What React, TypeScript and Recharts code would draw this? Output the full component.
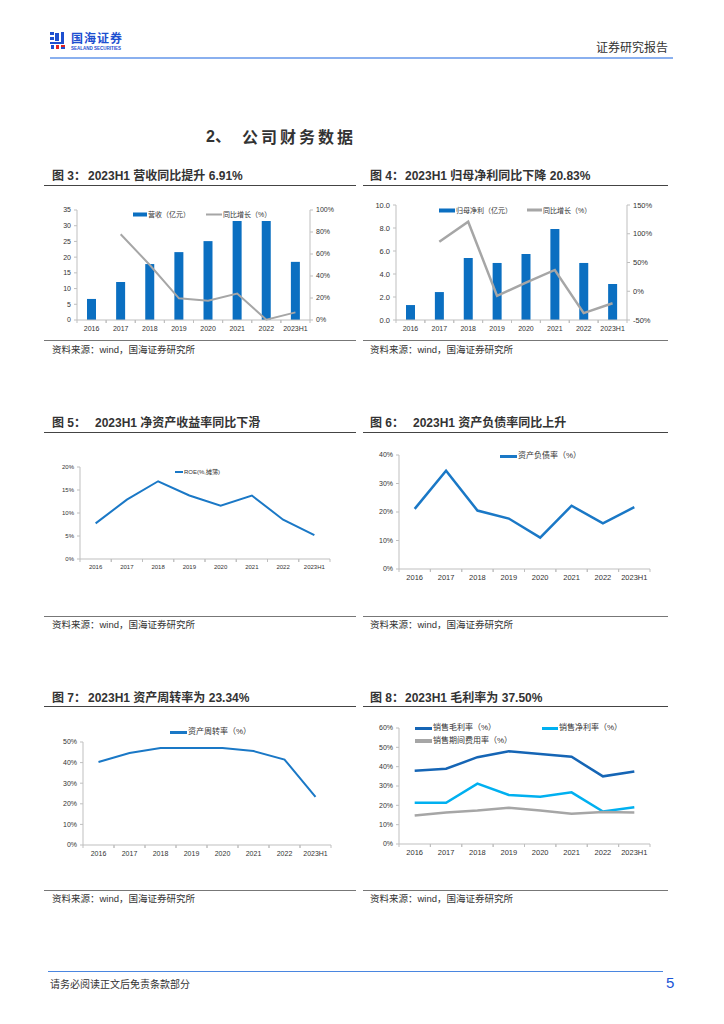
import React from 'react';
import { ComposedChart, Bar, Line, XAxis, YAxis, Legend } from 'recharts';

// ---------- data ----------
const years = ['2016', '2017', '2018', '2019', '2020', '2021', '2022', '2023H1'];
const revenue = [6.7, 12.1, 17.8, 21.6, 25.1, 31.5, 31.5, 18.5];
const revenueYoY = [null, 78, 50, 19.7, 17.6, 24, 0.3, 6.91];
const netProfit = [1.3, 2.43, 5.39, 4.96, 5.74, 7.91, 4.96, 3.13];
const netProfitYoY = [null, 86, 121, -8, 15, 37, -38, -20.83];
const roe = [7.75, 12.9, 16.9, 13.8, 11.6, 13.8, 8.55, 5.2];
const debtRatio = [21.1, 34.5, 20.5, 17.7, 11.0, 22.2, 16.0, 21.7];
const assetTurnover = [40.3, 44.7, 47.1, 47.1, 47.1, 45.6, 41.5, 23.34];
const grossMargin = [37.9, 38.9, 44.9, 48.0, 46.6, 45.1, 35.0, 37.5];
const netMargin = [21.3, 21.3, 31.2, 25.4, 24.5, 26.7, 16.8, 19.0];
const expenseRatio = [14.7, 16.3, 17.3, 18.7, 17.3, 15.6, 16.5, 16.3];

const revTicks = [0, 5, 10, 15, 20, 25, 30, 35];
const revPctTicks = [0, 20, 40, 60, 80, 100];
const npTicks = [0, 2, 4, 6, 8, 10];
const npPctTicks = [-50, 0, 50, 100, 150];
const roeTicks = [0, 5, 10, 15, 20];
const debtTicks = [0, 10, 20, 30, 40];
const turnTicks = [0, 10, 20, 30, 40, 50];
const marginTicks = [0, 10, 20, 30, 40, 50, 60];

const table = years.map((year, i) => ({
  year,
  revenue: revenue[i],
  revenueYoY: revenueYoY[i],
  netProfit: netProfit[i],
  netProfitYoY: netProfitYoY[i],
  roe: roe[i],
  debtRatio: debtRatio[i],
  assetTurnover: assetTurnover[i],
  grossMargin: grossMargin[i],
  netMargin: netMargin[i],
  expenseRatio: expenseRatio[i],
}));

// ---------- styles ----------
const FONT = '"Liberation Sans", Arial, "Noto Sans CJK SC", sans-serif';
const CJK = '"Noto Sans CJK SC", sans-serif';
const AX = '#BFBFBF';
const TXT = '#333333';
const BAR = '#0B6FC1';
const BLUE = '#1A78C6';
const pct = (v: number) => `${v}%`;

const XTick = (props: any) => {
  const { x, y, payload, band, fs } = props;
  return (
    <g>
      <line x1={x - band / 2} x2={x - band / 2} y1={y} y2={y + 3} stroke={AX} />
      <line x1={x + band / 2} x2={x + band / 2} y1={y} y2={y + 3} stroke={AX} />
      <text x={x} y={y + 6} dy="0.71em" textAnchor="middle" fontSize={fs} fill={TXT} fontFamily={FONT}>
        {payload.value}
      </text>
    </g>
  );
};

type LItem = { x: number; y: number; label: string; color: string; w: number; h: number; fs: number };
const renderLegend = (items: LItem[]) => () => (
  <div style={{ position: 'relative', width: 0, height: 0 }}>
    {items.map((it, i) => (
      <div
        key={i}
        style={{
          position: 'absolute',
          left: it.x,
          top: it.y,
          transform: 'translateY(-50%)',
          display: 'flex',
          alignItems: 'center',
          whiteSpace: 'nowrap',
          fontSize: it.fs,
          fontFamily: FONT,
          color: TXT,
          lineHeight: 1,
        }}
      >
        <span style={{ display: 'inline-block', width: it.w, height: it.h, background: it.color, marginRight: 1 }} />
        <span>{it.label}</span>
      </div>
    ))}
  </div>
);

const xAxisProps = (band: number, fs: number) => ({
  dataKey: 'year',
  scale: 'band' as const,
  height: 20,
  interval: 0,
  tickSize: 0,
  tickMargin: 0,
  tickLine: false,
  axisLine: { stroke: AX },
  tick: <XTick band={band} fs={fs} />,
});

const yAxisProps = (width: number, fs: number) => ({
  width,
  interval: 0 as const,
  tickSize: 3,
  tickMargin: 3,
  axisLine: { stroke: AX },
  tickLine: { stroke: AX },
  tick: { fontSize: fs, fill: TXT, fontFamily: FONT },
});

const legendBase = {
  layout: 'horizontal' as const,
  verticalAlign: 'middle' as const,
  align: 'center' as const,
  wrapperStyle: { left: 0, top: 0, width: 0, height: 0 },
};

// ---------- page helpers ----------
const T = ({ x, y, fs, children, bold, color, ls, family, lh }: any) => (
  <div
    style={{
      position: 'absolute',
      left: x,
      top: y,
      transform: 'translateY(-50%)',
      fontSize: fs,
      fontWeight: bold ? 700 : 400,
      color: color || TXT,
      letterSpacing: ls || 0,
      whiteSpace: 'nowrap',
      lineHeight: lh || 1.2,
      fontFamily: family || FONT,
    }}
  >
    {children}
  </div>
);

const HLine = ({ x1, x2, y, color, w }: any) => (
  <div style={{ position: 'absolute', left: x1, top: y, width: x2 - x1, height: w || 1, background: color }} />
);

const Pos = ({ x, y, children }: any) => <div style={{ position: 'absolute', left: x, top: y }}>{children}</div>;

const Title = ({ x, x2, y, fig, text }: any) => (
  <>
    <T x={x} y={y} fs={12} bold>{fig}</T>
    <T x={x2} y={y} fs={12} bold>{text}</T>
  </>
);

const Source = ({ x, y }: any) => <T x={x} y={y} fs={9.5}>资料来源：wind，国海证券研究所</T>;

export default function App() {
  return (
    <div style={{ position: 'absolute', left: 0, top: 0, width: 724, height: 1024, background: '#fff', fontFamily: FONT, overflow: 'hidden' }}>
      {/* header */}
      <svg style={{ position: 'absolute', left: 50, top: 32 }} width={18} height={17}>
        <rect x={0} y={0} width={4} height={3} fill="#1D4FD0" />
        <rect x={0} y={5} width={4} height={3} fill="#1D4FD0" />
        <rect x={5} y={1} width={4} height={8} fill="#1D4FD0" />
        <rect x={11} y={0} width={3} height={10} fill="#1D4FD0" />
        <rect x={0} y={10} width={14} height={2} fill="#1D4FD0" />
        <rect x={1} y={13} width={3} height={4} fill="#1D4FD0" />
        <rect x={6} y={13} width={3} height={4} fill="#E02424" />
        <rect x={11} y={13} width={4} height={2} fill="#E02424" />
        <rect x={11} y={15} width={4} height={2} fill="#1D4FD0" />
      </svg>
      <T x={71} y={37.5} fs={12} lh={1} bold color="#1D4FD0" family={CJK} ls={1}>国海证券</T>
      <T x={71} y={48.5} fs={4.5} lh={1} bold color="#1D4FD0">SEALAND SECURITIES</T>
      <T x={596} y={47} fs={12} color="#333" family={CJK}>证券研究报告</T>
      <HLine x1={50} x2={673} y={57} color="#8AB0EF" w={1.5} />

      {/* section title */}
      <T x={206} y={137} fs={16} bold>2、</T>
      <T x={242} y={137} fs={16} bold ls={3} family={CJK}>公司财务数据</T>

      {/* row 1 titles */}
      <Title x={52} x2={88} y={176} fig="图 3：" text="2023H1 营收同比提升 6.91%" />
      <Title x={370} x2={405} y={176} fig="图 4：" text="2023H1 归母净利同比下降 20.83%" />
      <HLine x1={44} x2={356} y={185} color="#444" />
      <HLine x1={363} x2={668} y={185} color="#444" />

      {/* chart 3 */}
      <Pos x={40} y={196}>
        <ComposedChart width={310} height={144} data={table} margin={{ top: 14, right: 0, bottom: 0, left: 0 }}>
          <XAxis {...xAxisProps(29.125, 7)} />
          <YAxis yAxisId="l" {...yAxisProps(37, 7)} domain={[0, 35]} ticks={revTicks} />
          <YAxis yAxisId="r" orientation="right" {...yAxisProps(40, 7)} domain={[0, 100]} ticks={revPctTicks} tickFormatter={pct} />
          <Legend
            {...legendBase}
            content={renderLegend([
              { x: 93, y: 18, w: 14, h: 4, color: BAR, label: '营收（亿元）', fs: 7 },
              { x: 166, y: 18, w: 16, h: 2, color: '#A6A6A6', label: '同比增长（%）', fs: 7 },
            ])}
          />
          <Bar yAxisId="l" dataKey="revenue" fill={BAR} barSize={9} isAnimationActive={false} />
          <Line yAxisId="r" dataKey="revenueYoY" stroke="#A6A6A6" strokeWidth={2} dot={false} isAnimationActive={false} />
        </ComposedChart>
      </Pos>

      {/* chart 4 */}
      <Pos x={360} y={193}>
        <ComposedChart width={310} height={147} data={table} margin={{ top: 12, right: 0, bottom: 0, left: 0 }}>
          <XAxis {...xAxisProps(28.875, 7)} />
          <YAxis yAxisId="l" {...yAxisProps(36, 7.5)} domain={[0, 10]} ticks={npTicks} tickFormatter={(v: number) => v.toFixed(1)} />
          <YAxis yAxisId="r" orientation="right" {...yAxisProps(43, 7.5)} domain={[-50, 150]} ticks={npPctTicks} tickFormatter={pct} />
          <Legend
            {...legendBase}
            content={renderLegend([
              { x: 79, y: 17, w: 16, h: 4, color: BAR, label: '归母净利（亿元）', fs: 7 },
              { x: 167, y: 17, w: 15, h: 2.5, color: '#A6A6A6', label: '同比增长（%）', fs: 7 },
            ])}
          />
          <Bar yAxisId="l" dataKey="netProfit" fill={BAR} barSize={9} isAnimationActive={false} />
          <Line yAxisId="r" dataKey="netProfitYoY" stroke="#A6A6A6" strokeWidth={2.5} dot={false} isAnimationActive={false} />
        </ComposedChart>
      </Pos>

      <HLine x1={44} x2={356} y={340} color="#777" />
      <HLine x1={363} x2={668} y={340} color="#777" />
      <Source x={52} y={350} />
      <Source x={370} y={350} />

      {/* row 2 titles */}
      <Title x={52} x2={95} y={423} fig="图 5：" text="2023H1 净资产收益率同比下滑" />
      <Title x={370} x2={413} y={423} fig="图 6：" text="2023H1 资产负债率同比上升" />
      <HLine x1={44} x2={356} y={432} color="#444" />
      <HLine x1={363} x2={668} y={432} color="#444" />

      {/* chart 5 */}
      <Pos x={40} y={455}>
        <ComposedChart width={310} height={124} data={table} margin={{ top: 12, right: 20, bottom: 0, left: 0 }}>
          <XAxis {...xAxisProps(31.25, 6)} />
          <YAxis {...yAxisProps(40, 6)} domain={[0, 20]} ticks={roeTicks} tickFormatter={pct} />
          <Legend
            {...legendBase}
            content={renderLegend([{ x: 135, y: 17, w: 8, h: 2, color: BLUE, label: 'ROE(%,摊薄)', fs: 6 }])}
          />
          <Line dataKey="roe" stroke={BLUE} strokeWidth={2} dot={false} isAnimationActive={false} />
        </ComposedChart>
      </Pos>

      {/* chart 6 */}
      <Pos x={360} y={443}>
        <ComposedChart width={310} height={146} data={table} margin={{ top: 12, right: 20, bottom: 0, left: 0 }}>
          <XAxis {...xAxisProps(31.375, 7.5)} />
          <YAxis {...yAxisProps(39, 7)} domain={[0, 40]} ticks={debtTicks} tickFormatter={pct} />
          <Legend
            {...legendBase}
            content={renderLegend([{ x: 140, y: 13, w: 17, h: 3, color: BLUE, label: '资产负债率（%）', fs: 8 }])}
          />
          <Line dataKey="debtRatio" stroke={BLUE} strokeWidth={2.5} dot={false} isAnimationActive={false} />
        </ComposedChart>
      </Pos>

      <HLine x1={44} x2={356} y={616} color="#777" />
      <HLine x1={363} x2={668} y={616} color="#777" />
      <Source x={52} y={625} />
      <Source x={370} y={625} />

      {/* row 3 titles */}
      <Title x={52} x2={88} y={698} fig="图 7：" text="2023H1 资产周转率为 23.34%" />
      <Title x={370} x2={405} y={698} fig="图 8：" text="2023H1 毛利率为 37.50%" />
      <HLine x1={44} x2={356} y={706} color="#444" />
      <HLine x1={363} x2={668} y={706} color="#444" />

      {/* chart 7 */}
      <Pos x={40} y={722}>
        <ComposedChart width={310} height={143} data={table} margin={{ top: 20, right: 19, bottom: 0, left: 0 }}>
          <XAxis {...xAxisProps(31, 7)} />
          <YAxis {...yAxisProps(43, 7)} domain={[0, 50]} ticks={turnTicks} tickFormatter={pct} />
          <Legend
            {...legendBase}
            content={renderLegend([{ x: 130, y: 10, w: 17, h: 3, color: BLUE, label: '资产周转率（%）', fs: 8 }])}
          />
          <Line dataKey="assetTurnover" stroke={BLUE} strokeWidth={2} dot={false} isAnimationActive={false} />
        </ComposedChart>
      </Pos>

      {/* chart 8 */}
      <Pos x={360} y={716}>
        <ComposedChart width={310} height={148} data={table} margin={{ top: 12, right: 20, bottom: 0, left: 0 }}>
          <XAxis {...xAxisProps(31.375, 7.5)} />
          <YAxis {...yAxisProps(39, 7)} domain={[0, 60]} ticks={marginTicks} tickFormatter={pct} />
          <Legend
            {...legendBase}
            content={renderLegend([
              { x: 55, y: 12, w: 17, h: 3, color: '#1565B5', label: '销售毛利率（%）', fs: 8 },
              { x: 182, y: 12, w: 16, h: 3, color: '#00B0F0', label: '销售净利率（%）', fs: 8 },
              { x: 55, y: 25, w: 17, h: 3.5, color: '#A6A6A6', label: '销售期间费用率（%）', fs: 8 },
            ])}
          />
          <Line dataKey="grossMargin" stroke="#1565B5" strokeWidth={2.5} dot={false} isAnimationActive={false} />
          <Line dataKey="netMargin" stroke="#00B0F0" strokeWidth={2.5} dot={false} isAnimationActive={false} />
          <Line dataKey="expenseRatio" stroke="#A6A6A6" strokeWidth={2.5} dot={false} isAnimationActive={false} />
        </ComposedChart>
      </Pos>

      <HLine x1={44} x2={356} y={890} color="#777" />
      <HLine x1={363} x2={668} y={890} color="#777" />
      <Source x={52} y={899} />
      <Source x={370} y={899} />

      {/* footer */}
      <HLine x1={48} x2={663} y={971} color="#4A86E0" />
      <T x={50} y={984} fs={10} family={CJK}>请务必阅读正文后免责条款部分</T>
      <T x={666} y={983} fs={15} color="#1A56D6">5</T>
    </div>
  );
}
